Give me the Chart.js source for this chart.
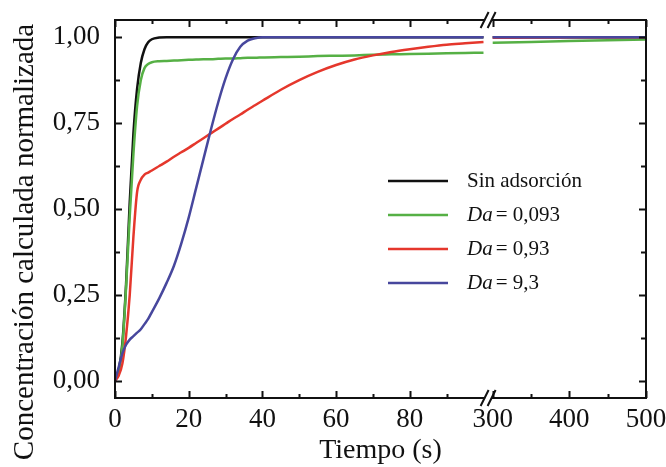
<!DOCTYPE html>
<html>
<head>
<meta charset="utf-8">
<script src="https://cdn.jsdelivr.net/npm/chart.js@4.4.1/dist/chart.umd.min.js"></script>
<style>
  html, body { margin: 0; padding: 0; background: #fff; }
  canvas { display: block; }
</style>
</head>
<body>
<canvas id="c" width="666" height="467"></canvas>
<script>
// times (s) before and after the axis break
const timeEarly = [0, 1, 2, 3, 4, 5, 6, 7, 8, 9, 10, 12, 14, 16, 18, 20, 22, 24, 26, 28, 30, 32, 34, 36, 38, 40, 45, 50, 55, 60, 65, 70, 75, 80, 85, 90, 95, 100];
const timeLate = [300, 350, 400, 450, 500];

// Sin adsorción
const noAdsEarly = [0, 0.03, 0.11, 0.28, 0.52, 0.72, 0.85, 0.925, 0.965, 0.985, 0.994, 0.999, 1, 1, 1, 1, 1, 1, 1, 1, 1, 1, 1, 1, 1, 1, 1, 1, 1, 1, 1, 1, 1, 1, 1, 1, 1, 1];
const noAdsLate = [1, 1, 1, 1, 1];
// Da = 0,093
const da0093Early = [0, 0.03, 0.1, 0.27, 0.48, 0.66, 0.8, 0.875, 0.91, 0.922, 0.927, 0.93, 0.931, 0.932, 0.933, 0.934, 0.935, 0.936, 0.936, 0.937, 0.938, 0.938, 0.939, 0.94, 0.94, 0.941, 0.942, 0.943, 0.945, 0.946, 0.947, 0.949, 0.95, 0.951, 0.952, 0.953, 0.954, 0.955];
const da0093Late = [0.984, 0.986, 0.989, 0.991, 0.993];
// Da = 0,93
const da093Early = [0, 0.015, 0.05, 0.13, 0.25, 0.42, 0.55, 0.585, 0.6, 0.606, 0.612, 0.625, 0.638, 0.652, 0.665, 0.678, 0.692, 0.706, 0.72, 0.734, 0.748, 0.762, 0.775, 0.789, 0.802, 0.815, 0.847, 0.875, 0.899, 0.919, 0.935, 0.947, 0.957, 0.965, 0.972, 0.978, 0.982, 0.986];
const da093Late = [0.998, 0.999, 1, 1, 1];
// Da = 9,3
const da93Early = [0, 0.04, 0.08, 0.105, 0.12, 0.13, 0.14, 0.15, 0.165, 0.18, 0.2, 0.24, 0.285, 0.335, 0.4, 0.475, 0.56, 0.645, 0.73, 0.81, 0.88, 0.935, 0.972, 0.99, 0.997, 1, 1, 1, 1, 1, 1, 1, 1, 1, 1, 1, 1, 1];
const da93Late = [1, 1, 1, 1, 1];

const xTickTimes = [0, 10, 20, 30, 40, 50, 60, 70, 80, 90, 300, 350, 400, 450, 500];
const xTickLabels = ['0', '', '20', '', '40', '', '60', '', '80', '', '300', '', '400', '', '500'];
const yTickValues = [0, 0.125, 0.25, 0.375, 0.5, 0.625, 0.75, 0.875, 1];
const yTickLabels = ['0,00', '', '0,25', '', '0,50', '', '0,75', '', '1,00'];

const seriesNames = ['Sin adsorción', '0,093', '0,93', '9,3'];
const seriesColors = ['#111111', '#56b045', '#e5372c', '#47479d'];

// broken time axis: 0-100 at full scale, 300-500 compressed
const BREAK_AT = 100, RESUME_AT = 300, GAP = 2.5, K = 0.208;
function toAxis(t) {
  return t <= BREAK_AT ? t : BREAK_AT + GAP + (t - RESUME_AT) * K;
}
const breakU = BREAK_AT + GAP / 2;

function series(early, late) {
  return [
    ...timeEarly.map((t, i) => ({ x: toAxis(t), y: early[i] })),
    { x: breakU, y: null },
    ...timeLate.map((t, i) => ({ x: toAxis(t), y: late[i] })),
  ];
}

const serif = 'Liberation Serif, Times New Roman, serif';

const frame = {
  id: 'frame',
  afterDraw(chart) {
    const { ctx, chartArea: a, scales } = chart;
    const xs = scales.x, ys = scales.y;
    ctx.save();
    ctx.strokeStyle = '#111';
    ctx.lineWidth = 2;
    ctx.strokeRect(a.left, a.top, a.right - a.left, a.bottom - a.top);
    // inward ticks
    ctx.beginPath();
    xs.ticks.forEach((tk, i) => {
      const px = Math.round(xs.getPixelForValue(tk.value)) + 0.5;
      const len = xTickLabels[i] ? 7 : 4;
      ctx.moveTo(px, a.bottom); ctx.lineTo(px, a.bottom - len);
      ctx.moveTo(px, a.top); ctx.lineTo(px, a.top + len);
    });
    ys.ticks.forEach((tk, i) => {
      const py = Math.round(ys.getPixelForValue(tk.value)) + 0.5;
      const len = yTickLabels[i] ? 7 : 5;
      ctx.moveTo(a.left, py); ctx.lineTo(a.left + len, py);
      ctx.moveTo(a.right, py); ctx.lineTo(a.right - len, py);
    });
    ctx.stroke();
    // axis break marks
    const bx = xs.getPixelForValue(breakU);
    [a.top, a.bottom].forEach((y0) => {
      ctx.fillStyle = '#fff';
      ctx.fillRect(bx - 3, y0 - 2, 6, 4);
      ctx.beginPath();
      [-3.5, 3.5].forEach((d) => {
        ctx.moveTo(bx + d - 4, y0 + 8);
        ctx.lineTo(bx + d + 4, y0 - 8);
      });
      ctx.lineWidth = 2;
      ctx.stroke();
    });
    // y title
    ctx.fillStyle = '#111';
    ctx.font = '29px ' + serif;
    ctx.textAlign = 'center';
    ctx.textBaseline = 'alphabetic';
    ctx.translate(33, 242);
    ctx.rotate(-Math.PI / 2);
    ctx.fillText('Concentración calculada normalizada', 0, 0);
    ctx.restore();

    // legend
    ctx.save();
    const rows = [181, 215, 249, 283];
    seriesNames.forEach((name, i) => {
      const y = rows[i];
      ctx.strokeStyle = seriesColors[i];
      ctx.lineWidth = 2.5;
      ctx.beginPath();
      ctx.moveTo(388, y); ctx.lineTo(448, y);
      ctx.stroke();
      ctx.fillStyle = '#111';
      ctx.textBaseline = 'middle';
      ctx.textAlign = 'left';
      let x = 467;
      if (i === 0) {
        ctx.font = '21px ' + serif;
        ctx.fillText(name, x, y);
      } else {
        ctx.font = 'italic 21px ' + serif;
        ctx.fillText('Da', x, y);
        x += ctx.measureText('Da').width + 3;
        ctx.font = '21px ' + serif;
        ctx.fillText('= ' + name, x, y);
      }
    });
    ctx.restore();
  },
};

const datasets = [
  [noAdsEarly, noAdsLate, 4],
  [da0093Early, da0093Late, 3],
  [da093Early, da093Late, 2],
  [da93Early, da93Late, 1],
].map(([e, l, ord], i) => ({
  label: seriesNames[i],
  data: series(e, l),
  borderColor: seriesColors[i],
  borderWidth: 2.5,
  pointRadius: 0,
  fill: false,
  spanGaps: false,
  cubicInterpolationMode: 'monotone',
  order: ord,
}));

new Chart(document.getElementById('c'), {
  type: 'line',
  data: { datasets },
  options: {
    responsive: false,
    animation: false,
    devicePixelRatio: 1,
    layout: { padding: { left: 0, top: 20, right: 20, bottom: 0 } },
    plugins: { legend: { display: false }, tooltip: { enabled: false } },
    scales: {
      x: {
        type: 'linear',
        min: 0,
        max: toAxis(500),
        grid: { display: false, drawTicks: false },
        border: { display: false },
        afterBuildTicks: (s) => { s.ticks = xTickTimes.map((t) => ({ value: toAxis(t) })); },
        afterFit: (s) => { s.height = 69; s.paddingLeft = 0; s.paddingRight = 0; },
        ticks: {
          autoSkip: false,
          maxRotation: 0,
          padding: 6,
          color: '#111',
          font: { family: serif, size: 27 },
          callback: (v, i) => xTickLabels[i],
        },
        title: {
          display: true,
          text: 'Tiempo (s)',
          color: '#111',
          font: { family: serif, size: 28 },
          padding: { top: 0, bottom: 0 },
        },
      },
      y: {
        min: -0.05,
        max: 1.05,
        grid: { display: false, drawTicks: false },
        border: { display: false },
        afterBuildTicks: (s) => { s.ticks = yTickValues.map((v) => ({ value: v })); },
        afterFit: (s) => { s.width = 115; s.paddingTop = 0; s.paddingBottom = 0; },
        ticks: {
          autoSkip: false,
          padding: 15,
          color: '#111',
          font: { family: serif, size: 27 },
          callback: (v, i) => yTickLabels[i],
        },
      },
    },
  },
  plugins: [frame],
});
</script>
</body>
</html>
